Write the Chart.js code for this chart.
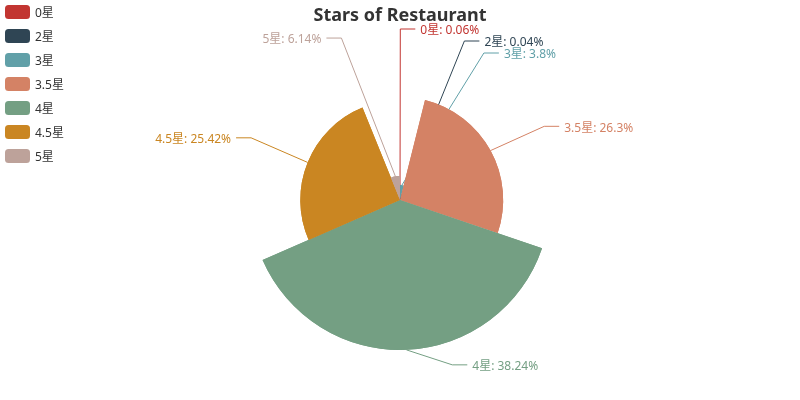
<!DOCTYPE html>
<html>
<head>
<meta charset="utf-8">
<script src="https://cdn.jsdelivr.net/npm/chart.js@4.4.1/dist/chart.umd.min.js"></script>
<style>
  body { margin: 0; background: #fff; }
  #wrap { width: 800px; height: 400px; }
</style>
</head>
<body>
<div id="wrap"><canvas id="roseChart" width="800" height="400"></canvas></div>
<script>
const categories = ['0星', '2星', '3星', '3.5星', '4星', '4.5星', '5星'];
const shares = [0.06, 0.04, 3.8, 26.3, 38.24, 25.42, 6.14];
const colors = ['#c23531', '#2f4554', '#61a0a8', '#d48265', '#749f83', '#ca8622', '#bda29a'];
const titleText = 'Stars of Restaurant';

const FONT = '"Noto Sans", "Noto Sans CJK SC", sans-serif';
const TEXT_NUDGE = 2; // glyphs sit a bit high with textBaseline middle

// pie whose slice radius follows the value (like a "rose" with roseType radius)
class RoseController extends Chart.PieController {
  updateElement(arc, index, props, mode) {
    if (props && props.outerRadius !== undefined) {
      const data = this.getDataset().data;
      const max = Math.max(...data);
      props.outerRadius = this.outerRadius * data[index] / max;
    }
    super.updateElement(arc, index, props, mode);
  }
}
RoseController.id = 'rose';
Chart.register(RoseController);

function pct(v) {
  const total = shares.reduce((a, b) => a + b, 0);
  return +(v / total * 100).toFixed(2);
}

// push labels apart on one side, then put them back on an ellipse
function adjustSide(list, cx, cy, r, dir, viewH) {
  list.sort((a, b) => a.y - b.y);
  function shiftUp(end, delta) {
    for (let j = end; j >= 0; j--) {
      if (list[j].y - delta < 0) break;
      list[j].y -= delta;
      if (j > 0 && list[j].y > list[j - 1].y + list[j - 1].h) break;
    }
  }
  function shiftDown(start, end, delta) {
    for (let j = start; j < end; j++) {
      if (list[j].y + delta > viewH) break;
      list[j].y += delta;
      if (j > start && j + 1 < end && list[j + 1].y > list[j].y + list[j].h) {
        shiftUp(j, delta / 2);
        return;
      }
    }
    shiftUp(end - 1, delta / 2);
  }
  function changeX(items, isDown) {
    let last = isDown ? Number.MAX_VALUE : 0;
    items.forEach(it => {
      const dY = Math.abs(it.y - cy);
      let dX = dY < r + it.len
        ? Math.sqrt((r + it.len + it.len2) ** 2 - dY * dY)
        : Math.abs(it.x - cx);
      if (isDown && dX >= last) dX = last - 10;
      if (!isDown && dX <= last) dX = last + 10;
      it.x = cx + dX * dir;
      last = dX;
    });
  }
  let lastY = 0;
  for (let i = 0; i < list.length; i++) {
    const delta = list[i].y - lastY;
    if (delta < 0) shiftDown(i, list.length, -delta);
    lastY = list[i].y + list[i].h;
  }
  if (viewH - lastY < 0) shiftUp(list.length - 1, lastY - viewH);
  changeX(list.filter(it => it.y < cy), false);
  changeX(list.filter(it => it.y >= cy), true);
}

const extras = {
  id: 'extras',
  afterDatasetsDraw(chart) {
    const ctx = chart.ctx;
    const meta = chart.getDatasetMeta(0);
    const r = meta.controller.outerRadius;
    const cx = meta.data[0].x, cy = meta.data[0].y;
    const len = 15, len2 = 15, gap = 5;

    const labels = meta.data.map((arc, i) => {
      const mid = (arc.startAngle + arc.endAngle) / 2;
      const dx = Math.cos(mid), dy = Math.sin(mid);
      const x1 = cx + arc.outerRadius * dx, y1 = cy + arc.outerRadius * dy;
      const x2 = x1 + dx * (len + r - arc.outerRadius);
      const y2 = y1 + dy * (len + r - arc.outerRadius);
      const dir = dx < 0 ? -1 : 1;
      const x3 = x2 + dir * len2;
      return { i, dir, x: x3 + dir * gap, y: y2, h: 12, len, len2, start: [x1, y1] };
    });
    adjustSide(labels.filter(l => l.x >= cx), cx, cy, r, 1, chart.height);
    adjustSide(labels.filter(l => l.x < cx), cx, cy, r, -1, chart.height);

    ctx.save();
    // redraw slice by slice so each leader line sits under the later slices
    ctx.lineWidth = 1;
    labels.forEach(l => {
      meta.data[l.i].draw(ctx, chart.chartArea);
      const end = l.x - l.dir * gap;
      const elbow = end - l.dir * len2;
      ctx.strokeStyle = colors[l.i];
      ctx.beginPath();
      ctx.moveTo(l.start[0], l.start[1]);
      ctx.lineTo(elbow, l.y);
      ctx.lineTo(end, l.y);
      ctx.stroke();
    });

    ctx.font = '12px ' + FONT;
    ctx.textBaseline = 'middle';
    labels.forEach(l => {
      ctx.fillStyle = colors[l.i];
      ctx.textAlign = l.dir < 0 ? 'right' : 'left';
      ctx.fillText(categories[l.i] + ': ' + pct(shares[l.i]) + '%', l.x, l.y + TEXT_NUDGE);
    });

    // title
    ctx.fillStyle = '#333';
    ctx.font = 'bold 18px ' + FONT;
    ctx.textAlign = 'center';
    ctx.fillText(titleText, chart.width / 2, 14 + TEXT_NUDGE);

    // legend
    ctx.font = '12px ' + FONT;
    ctx.textAlign = 'left';
    categories.forEach((name, i) => {
      const top = 5 + i * 24;
      ctx.fillStyle = colors[i];
      ctx.beginPath();
      ctx.roundRect(5, top, 25, 14, 3.5);
      ctx.fill();
      ctx.fillStyle = '#333';
      ctx.fillText(name, 35, top + 7 + TEXT_NUDGE);
    });
    ctx.restore();
  }
};

new Chart(document.getElementById('roseChart'), {
  type: 'rose',
  data: {
    labels: categories,
    datasets: [{
      data: shares,
      backgroundColor: colors,
      borderWidth: 0
    }]
  },
  options: {
    responsive: false,
    devicePixelRatio: 1,
    animation: false,
    radius: 150,
    layout: { padding: 0 },
    plugins: {
      legend: { display: false },
      title: { display: false },
      tooltip: { enabled: false }
    }
  },
  plugins: [extras]
});
</script>
</body>
</html>
